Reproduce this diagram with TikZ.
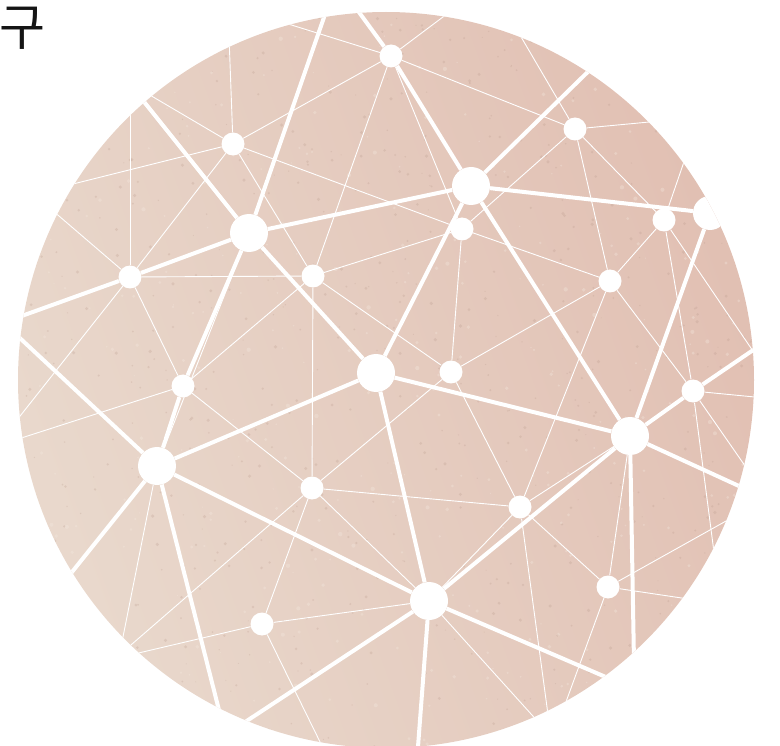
\documentclass[tikz,border=0pt]{standalone}
\usepackage{fontspec}
\newfontfamily\krfont{Noto Sans CJK KR}
\definecolor{discLight}{HTML}{E9D9CD}
\definecolor{discPink}{HTML}{E1BFB2}
\definecolor{speckDark}{HTML}{B8998B}
\definecolor{speckLight}{HTML}{F4E8DE}
\definecolor{glyphInk}{HTML}{151515}
\begin{document}
\begin{tikzpicture}[x=1pt,y=-1pt,
  hub/.style={circle, fill=white, inner sep=0pt, minimum size=38pt},
  dotnode/.style={circle, fill=white, inner sep=0pt, minimum size=23pt},
  strong/.style={draw=white, line width=4pt},
  faint/.style={draw=white, line width=0.9pt}]
\useasboundingbox (0,0) rectangle (780,746);

\node[font=\krfont\fontsize{50}{50}\selectfont, anchor=base west, inner sep=0pt, text=glyphInk] (title) at (-1,46) {구};

\begin{scope}
\clip (386,380) circle[radius=368pt];
\shade[left color=discLight, right color=discPink, shading angle=110] (0,0) rectangle (780,760);
\pgfmathsetseed{11}
\foreach \k in {1,...,700}{
  \pgfmathsetmacro{\sx}{20+740*rnd}
  \pgfmathsetmacro{\sy}{12+736*rnd}
  \pgfmathsetmacro{\sr}{0.5+1.3*rnd}
  \fill[speckDark, opacity=0.25] (\sx,\sy) circle[radius=\sr pt];
}
\foreach \k in {1,...,400}{
  \pgfmathsetmacro{\sx}{20+740*rnd}
  \pgfmathsetmacro{\sy}{12+736*rnd}
  \pgfmathsetmacro{\sr}{0.6+1.6*rnd}
  \fill[speckLight, opacity=0.35] (\sx,\sy) circle[radius=\sr pt];
}

% hubs
\node[hub] (A) at (249,233) {};
\node[hub] (B) at (471,186) {};
\node[hub] (C) at (376,373) {};
\node[hub] (D) at (157,466) {};
\node[hub] (E) at (630,436) {};
\node[hub] (F) at (429,601) {};
\node[hub, minimum size=34pt] (G) at (710,213) {};
% small dots
\node[dotnode] (a1) at (391,56) {};
\node[dotnode] (a2) at (233,144) {};
\node[dotnode] (a3) at (575,129) {};
\node[dotnode] (a4) at (130,277) {};
\node[dotnode] (a5) at (313,276) {};
\node[dotnode] (a6) at (462,229) {};
\node[dotnode] (a7) at (664,220) {};
\node[dotnode] (a8) at (610,281) {};
\node[dotnode] (a9) at (451,372) {};
\node[dotnode] (a10) at (183,386) {};
\node[dotnode] (a11) at (693,391) {};
\node[dotnode] (a12) at (312,488) {};
\node[dotnode] (a13) at (520,507) {};
\node[dotnode] (a14) at (608,587) {};
\node[dotnode] (a15) at (262,624) {};

% free ends beyond the rim
\coordinate (e1) at (353,4);
\coordinate (e2) at (600,60);
\coordinate (e3) at (137,93);
\coordinate (e4) at (329,3);
\coordinate (e5) at (5,322);
\coordinate (e6) at (8,327);
\coordinate (e7) at (68,577);
\coordinate (e8) at (221,718);
\coordinate (e9) at (236,728);
\coordinate (e10) at (417,760);
\coordinate (e11) at (615,681);
\coordinate (e12) at (765,342);
\coordinate (e13) at (752,492);
\coordinate (e14) at (634,662);
\coordinate (e15) at (455,8);
\coordinate (e16) at (285,23);
\coordinate (e17) at (229,36);
\coordinate (e18) at (143,91);
\coordinate (e19) at (65,186);
\coordinate (e20) at (517,30);
\coordinate (e21) at (660,121);
\coordinate (e22) at (130,108);
\coordinate (e23) at (52,210);
\coordinate (e24) at (13,425);
\coordinate (e25) at (687,153);
\coordinate (e26) at (757,357);
\coordinate (e27) at (12,441);
\coordinate (e28) at (765,398);
\coordinate (e29) at (715,560);
\coordinate (e30) at (750,473);
\coordinate (e31) at (124,651);
\coordinate (e32) at (549,722);
\coordinate (e33) at (735,516);
\coordinate (e34) at (695,600);
\coordinate (e35) at (563,710);
\coordinate (e36) at (130,655);
\coordinate (e37) at (325,752);
\coordinate (e38) at (120,652);
\coordinate (e39) at (541,725);

% strong links
\draw[strong] (e1) -- (a1);
\draw[strong] (a1) -- (B);
\draw[strong] (B) -- (e2);
\draw[strong] (B) -- (G);
\draw[strong] (G) -- (E);
\draw[strong] (B) -- (E);
\draw[strong] (B) -- (C);
\draw[strong] (A) -- (B);
\draw[strong] (e3) -- (A);
\draw[strong] (A) -- (C);
\draw[strong] (e4) -- (A);
\draw[strong] (A) -- (a10);
\draw[strong] (a10) -- (D);
\draw[strong] (A) -- (a4);
\draw[strong] (a4) -- (e5);
\draw[strong] (e6) -- (D);
\draw[strong] (D) -- (C);
\draw[strong] (D) -- (e7);
\draw[strong] (D) -- (e8);
\draw[strong] (D) -- (F);
\draw[strong] (C) -- (F);
\draw[strong] (C) -- (E);
\draw[strong] (E) -- (F);
\draw[strong] (F) -- (e9);
\draw[strong] (F) -- (e10);
\draw[strong] (F) -- (e11);
\draw[strong] (E) -- (a11);
\draw[strong] (a11) -- (e12);
\draw[strong] (E) -- (e13);
\draw[strong] (E) -- (e14);

% faint links
\draw[faint] (a1) -- (e15);
\draw[faint] (a1) -- (a3);
\draw[faint] (a1) -- (a6);
\draw[faint] (a1) -- (a5);
\draw[faint] (a1) -- (a2);
\draw[faint] (a1) -- (e16);
\draw[faint] (a2) -- (e17);
\draw[faint] (a2) -- (e18);
\draw[faint] (a2) -- (e19);
\draw[faint] (a2) -- (a4);
\draw[faint] (a2) -- (a5);
\draw[faint] (a2) -- (a6);
\draw[faint] (a3) -- (e20);
\draw[faint] (a3) -- (e21);
\draw[faint] (a3) -- (a6);
\draw[faint] (a3) -- (a8);
\draw[faint] (a3) -- (a7);
\draw[faint] (a4) -- (e22);
\draw[faint] (a4) -- (e23);
\draw[faint] (a4) -- (a5);
\draw[faint] (a4) -- (e24);
\draw[faint] (a4) -- (a10);
\draw[faint] (a5) -- (a6);
\draw[faint] (a5) -- (a10);
\draw[faint] (a5) -- (a12);
\draw[faint] (a5) -- (a9);
\draw[faint] (a6) -- (a9);
\draw[faint] (a6) -- (a8);
\draw[faint] (a7) -- (e25);
\draw[faint] (a7) -- (a8);
\draw[faint] (a7) -- (a11);
\draw[faint] (a7) -- (e26);
\draw[faint] (a8) -- (a9);
\draw[faint] (a8) -- (a13);
\draw[faint] (a8) -- (a11);
\draw[faint] (a9) -- (a12);
\draw[faint] (a9) -- (a13);
\draw[faint] (a10) -- (e27);
\draw[faint] (a10) -- (a12);
\draw[faint] (D) -- (A);
\draw[faint] (a11) -- (e28);
\draw[faint] (a11) -- (e29);
\draw[faint] (a11) -- (e30);
\draw[faint] (a12) -- (e31);
\draw[faint] (a12) -- (a15);
\draw[faint] (a12) -- (a13);
\draw[faint] (a12) -- (F);
\draw[faint] (a13) -- (E);
\draw[faint] (a13) -- (F);
\draw[faint] (a13) -- (e32);
\draw[faint] (a13) -- (a14);
\draw[faint] (a14) -- (E);
\draw[faint] (a14) -- (e33);
\draw[faint] (a14) -- (e34);
\draw[faint] (a14) -- (e35);
\draw[faint] (a15) -- (e36);
\draw[faint] (a15) -- (F);
\draw[faint] (a15) -- (e37);
\draw[faint] (D) -- (e38);
\draw[faint] (F) -- (e39);
\end{scope}
\end{tikzpicture}
\end{document}
